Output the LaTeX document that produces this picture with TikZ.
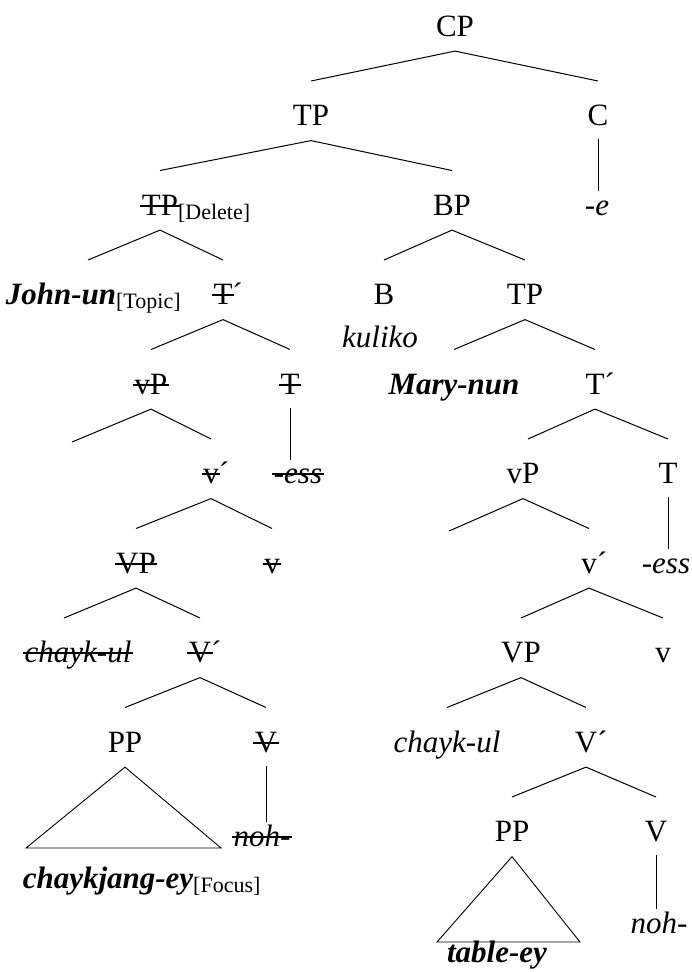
\documentclass[tikz,border=0pt]{standalone}
\usepackage{fontspec}
\setmainfont{Liberation Serif}
\usetikzlibrary{calc}
\newcommand{\strk}[1]{\setbox0=\hbox{#1}\hbox to \wd0{\rlap{\hspace{-0.05em}\rule[0.27em]{\dimexpr\wd0+0.1em\relax}{0.065em}}\box0\hss}}
\newcommand{\subl}[1]{\rlap{\raisebox{-4pt}{\normalfont\fontsize{22}{25}\selectfont #1}}}
\newcommand{\pr}{\rlap{´}}
\begin{document}
\begin{tikzpicture}[x=1pt,y=-1pt,line width=1pt,
  lbl/.style={anchor=base,inner sep=0pt,outer xsep=0pt,outer ysep=9pt,text height=35.6pt,text depth=6pt,font=\fontsize{31}{36}\selectfont},
  itl/.style={lbl,font=\fontsize{31}{36}\selectfont\itshape},
  bil/.style={lbl,font=\fontsize{31}{36}\selectfont\bfseries\itshape}]
\useasboundingbox (0,0) rectangle (692,972);
% nodes
\node[lbl] (cp) at (455,36.1) {CP};
\node[lbl] (tp1) at (311,125.6) {TP};
\node[lbl] (c) at (598,125.6) {C};
\node[lbl] (tpd) at (160,215.1) {\strk{TP}\subl{[Delete]}};
\node[lbl] (bp) at (452,215.1) {BP};
\node[itl] (e) at (597,215.1) {-e};
\node[bil] (john) at (61,304.6) {John-un\subl{[Topic]}};
\node[lbl] (tbarL) at (223,304.6) {\strk{T}\pr};
\node[lbl] (b) at (384,304.6) {B};
\node[lbl] (tp2) at (525,304.6) {TP};
\node[itl] (kul) at (380,347) {kuliko};
\node[lbl] (vpL) at (151,394.1) {\strk{vP}};
\node[lbl] (tL) at (290,394.1) {\strk{T}};
\node[bil] (mary) at (454,394.1) {Mary-nun};
\node[lbl] (tbarR) at (595,394.1) {T\pr};
\node[lbl] (vbarL) at (211,483.6) {\strk{v}\pr};
\node[itl] (essL) at (298,483.6) {\strk{-ess}};
\node[lbl] (vpR) at (523,483.6) {vP};
\node[lbl] (tR) at (668,483.6) {T};
\node[lbl] (bigvpL) at (136,573.1) {\strk{VP}};
\node[lbl] (vL) at (272,573.1) {\strk{v}};
\node[lbl] (vbarR) at (589,573.1) {v\pr};
\node[itl] (essR) at (666,573.1) {-ess};
\node[itl] (chL) at (78,662.6) {\strk{chayk-ul}};
\node[lbl] (bigvbarL) at (200,662.6) {\strk{V\pr}};
\node[lbl] (bigvpR) at (521,662.6) {VP};
\node[lbl] (vR) at (663,662.6) {v};
\node[lbl] (ppL) at (125,752.1) {PP};
\node[lbl] (bigvL) at (266,752.1) {\strk{V}};
\node[itl] (chR) at (447,752.1) {chayk-ul};
\node[lbl] (bigvbarR) at (586,752.1) {V\pr};
\node[itl] (nohL) at (262,846) {\strk{noh-}};
\node[lbl] (ppR) at (512,841.6) {PP};
\node[lbl] (bigvR) at (656,841.6) {V};
\node[itl] (nohR) at (659,933) {noh-};
\node[bil] (foc) at (108,888) {chaykjang-ey\subl{[Focus]}};
\node[bil] (tab) at (497,962) {table-ey};
\coordinate (specL) at (72,442);
\coordinate (specR) at (449,531);
\coordinate (triL1) at (26,848);
\coordinate (triL2) at (221,848);
\coordinate (triR1) at (437,942);
\coordinate (triR2) at (580,942);
% branches
\draw (tp1.north) -- (cp.south) -- (c.north);
\draw (tpd.north) -- (tp1.south) -- (bp.north);
\draw ([xshift=27pt]john.north) -- (tpd.south) -- (tbarL.north);
\draw (b.north) -- (bp.south) -- (tp2.north);
\draw (vpL.north) -- (tbarL.south) -- (tL.north);
\draw (mary.north) -- (tp2.south) -- (tbarR.north);
\draw (specL) -- (vpL.south) -- (vbarL.north);
\draw ([xshift=5pt]vpR.north) -- (tbarR.south) -- (tR.north);
\draw (bigvpL.north) -- (vbarL.south) -- (vL.north);
\draw (specR) -- (vpR.south) -- (vbarR.north);
\draw ([xshift=-14pt]chL.north) -- (bigvpL.south) -- (bigvbarL.north);
\draw (bigvpR.north) -- (vbarR.south) -- (vR.north);
\draw (ppL.north) -- (bigvbarL.south) -- (bigvL.north);
\draw (chR.north) -- (bigvpR.south) -- (bigvbarR.north);
\draw (ppR.north) -- (bigvbarR.south) -- (bigvR.north);
% unary lines
\draw ($(c.south)+(0,-1.6)$) -- ($(c.south |- e.north)+(0,20.6)$);
\draw ($(tL.south)+(0,-1.6)$) -- ($(tL.south |- essL.north)+(0,20.6)$);
\draw ($(tR.south)+(0,-1.6)$) -- ($(tR.south |- essR.north)+(0,20.6)$);
\draw ($(bigvL.south)+(0,-1.6)$) -- ($(bigvL.south |- nohL.north)+(0,20.6)$);
\draw ($(bigvR.south)+(0,-1.6)$) -- ($(bigvR.south |- nohR.north)+(0,20.6)$);
% triangles
\draw[line width=0.9pt] (ppL.south) -- (triL1) -- (triL2) -- cycle;
\draw[line width=0.9pt] (ppR.south) -- (triR1) -- (triR2) -- cycle;
\end{tikzpicture}
\end{document}
